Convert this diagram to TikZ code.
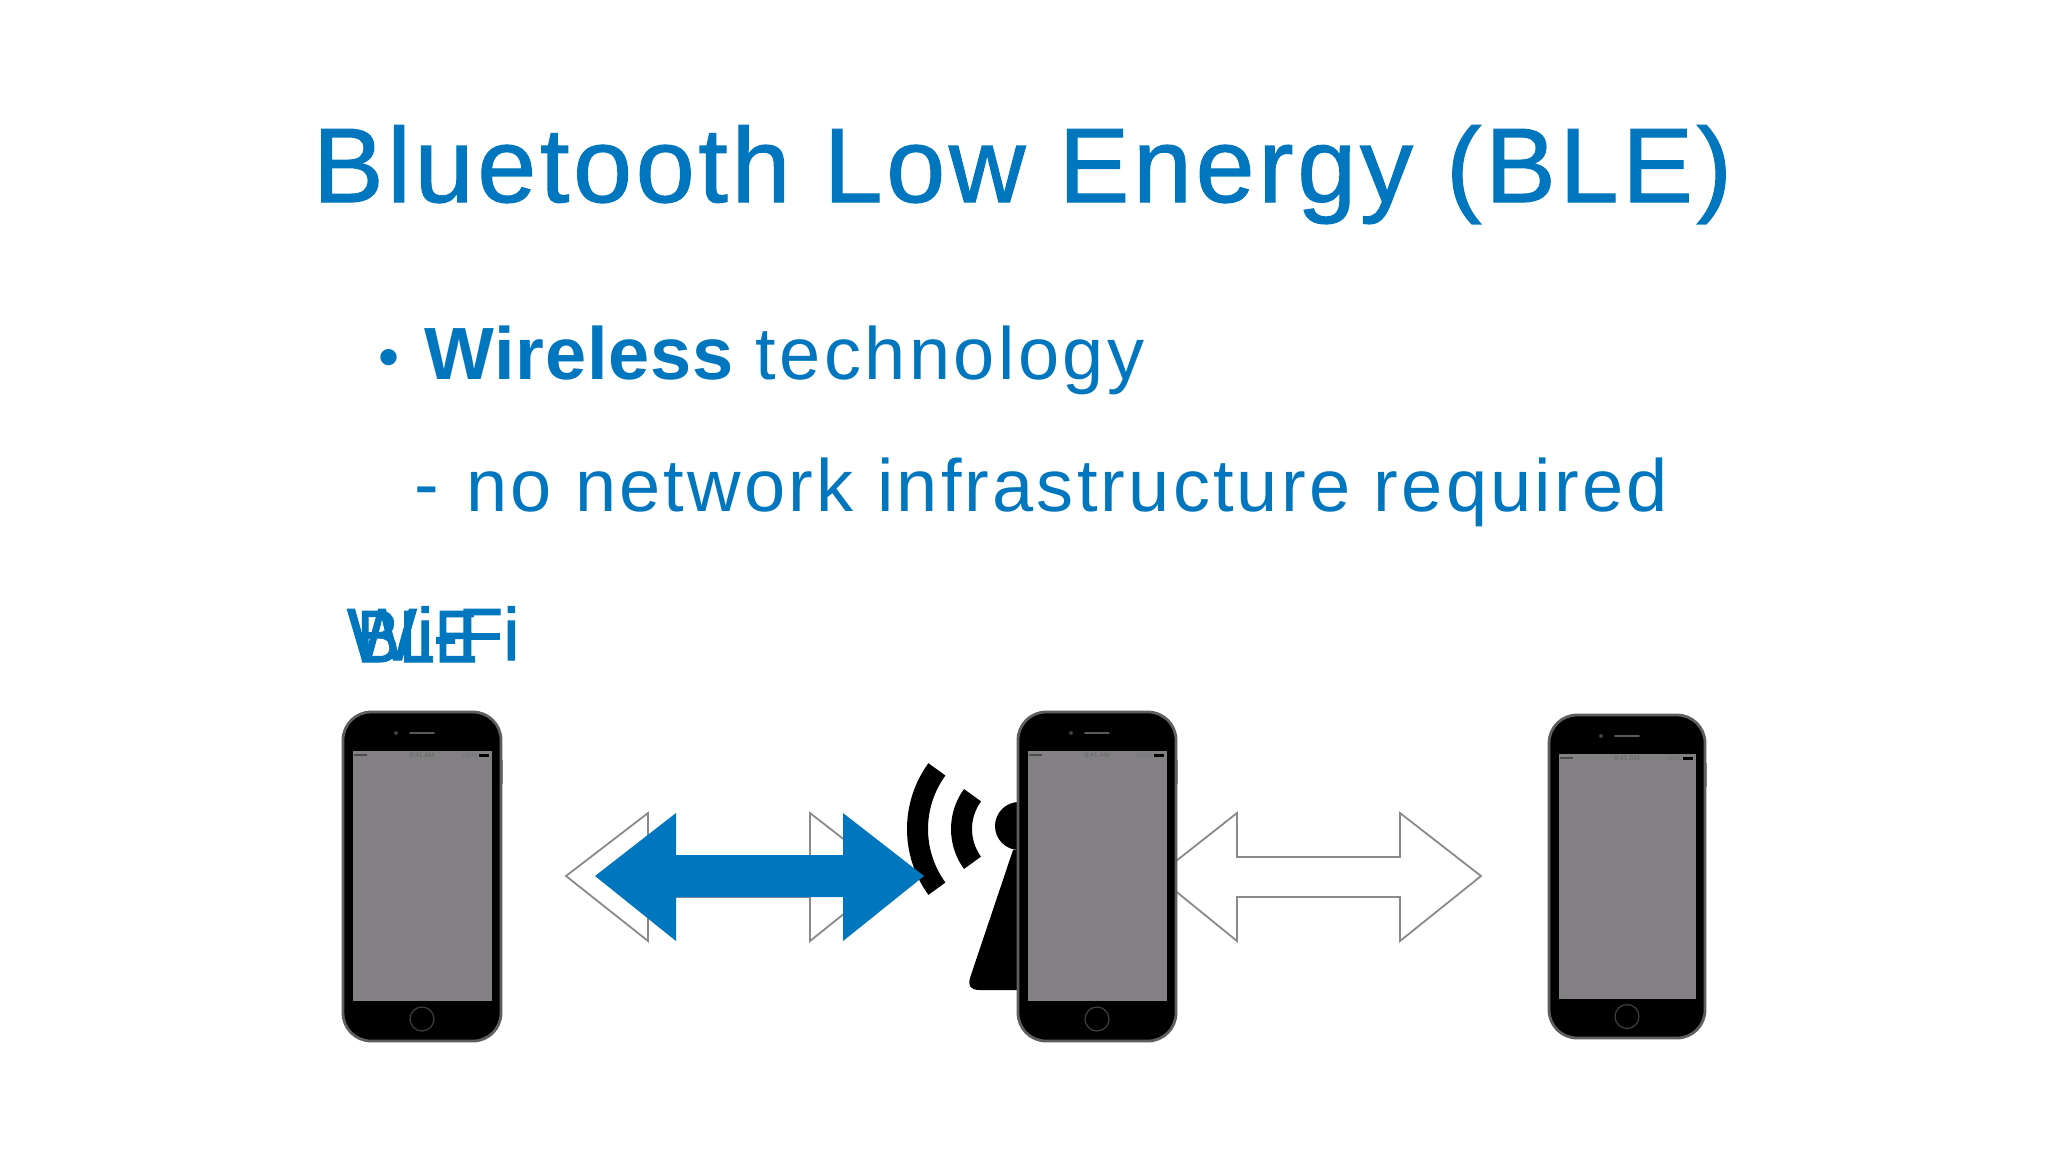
\documentclass[tikz,border=0pt]{standalone}
\usepackage{fontspec}
\setmainfont{Liberation Sans}
\definecolor{blu}{HTML}{0076BE}
\definecolor{scr}{HTML}{828083}
\definecolor{edge}{HTML}{5F5F62}
\definecolor{arr}{HTML}{8A8A8C}
\newcommand{\txt}[2]{\fontsize{#1}{#1}\selectfont #2}
\newcommand{\spaced}[2]{{\addfontfeature{LetterSpace=#1}#2}}
\newcommand{\medw}[1]{\special{pdf:code 2 Tr 0.55 w}#1\special{pdf:code 0 Tr}}
\newcommand{\phonepic}[8]{% name,L,R,T,B,sT,sB,top offset of speaker
  \fill[edge!70] ({#2-1.5},{#4+40}) rectangle ({#2},{#4+56});
  \fill[edge!70] ({#2-1.5},{#4+68}) rectangle ({#2},{#4+84});
  \fill[edge!70] ({#3},{#4+48}) rectangle ({#3+1.5},{#4+72});
  \node[phonebody,minimum width={(#3-#2)*0.5pt},minimum height={(#5-#4)*0.5pt}] (#1) at ({(#2+#3)/2},{(#4+#5)/2}) {};
  \node[phonescreen,minimum width={(#3-#2-19)*0.5pt},minimum height={(#7-#6)*0.5pt}] (#1s) at ({(#2+#3)/2},{(#6+#7)/2}) {};
  \node[homebtn] (#1h) at ({(#2+#3)/2},{(#7+#5)/2-2}) {};
  \draw[draw=white!35!black,line width=0.8pt,line cap=round] ({(#2+#3)/2-12},{#4+#8}) -- ({(#2+#3)/2+12},{#4+#8});
  \fill[white!25!black] ({(#2+#3)/2-26},{#4+#8}) circle (2);
  \fill[black!70] ({#2+11},{#6+3.2}) rectangle ({#2+24},{#6+5});
  \fill[black] ({#3-22},{#6+2.5}) rectangle ({#3-12},{#6+5.5});
  \node[inner sep=0pt,text=black!60] (#1t) at ({(#2+#3)/2},{#6+4.5}) {\txt{3.4}{9:41 AM}};
  \node[inner sep=0pt,text=black!55,anchor=east] (#1b) at ({#3-23},{#6+4.5}) {\txt{3.2}{100\%}};
}
\newcommand{\wavesector}[3]{\fill[black] ({#1+#2*cos(216)},{#3+#2*sin(216)}) arc[start angle=216,end angle=144,radius=#2] -- ({#1+(#2-21)*cos(144)},{#3+(#2-21)*sin(144)}) arc[start angle=144,end angle=216,radius=#2-21] -- cycle;}
\tikzset{
  x=0.5pt,y=-0.5pt,
  phonebody/.style={draw=edge,line width=1.4pt,fill=black,rounded corners=14pt,inner sep=0pt},
  phonescreen/.style={fill=scr,draw=none,inner sep=0pt},
  homebtn/.style={circle,draw=white!25!black,line width=0.6pt,fill=black,minimum size=12pt,inner sep=0pt},
  outlinearrow/.style={draw=arr,line width=0.9pt,fill=white,line join=miter},
  bluearrow/.style={fill=blu,draw=none},
  label/.style={anchor=base west,inner sep=0pt,outer sep=0pt,text=blu},
}
\begin{document}
\begin{tikzpicture}
\useasboundingbox (0,0) rectangle (2048,1152);
\fill[white] (0,0) rectangle (2048,1152);
\node[label] (title) at (313,202) {\txt{53}{\medw{\spaced{3.5}{Bluetooth Low Energy (BLE)}}}};
\node[label] (bullet) at (378,377) {\txt{30}{•}};
\node[label] (b1) at (424,379) {\txt{37}{\spaced{1.2}{\textbf{Wireless}} \spaced{4.7}{technology}}};
\node[label] (dash) at (414,509) {\txt{37}{-}};
\node[label] (b2) at (466,511) {\txt{37}{\spaced{4.3}{no network infrastructure required}}};
\node[label] (wifi) at (347,660) {\txt{37}{\medw{Wi-Fi}}};
\node[label] (ble) at (357,662) {\txt{37}{\scalebox{0.86}[1]{\medw{BLE}}}};
% outline arrows
\draw[outlinearrow] (566,876) -- (648,813) -- (648,856) -- (810,856) -- (810,813) -- (891,876) -- (810,941) -- (810,897) -- (648,897) -- (648,941) -- cycle;
\draw[outlinearrow] (1157,876) -- (1237,813) -- (1237,857) -- (1400,857) -- (1400,813) -- (1481,876) -- (1400,941) -- (1400,897) -- (1237,897) -- (1237,941) -- cycle;
% beacon
\fill[black] (1019,826) circle (24);
\fill[black] (1013,850) -- (971,975) .. controls (967,985) and (970,990) .. (980,990) -- (1030,990) -- (1030,850) -- cycle;
\wavesector{1019}{68}{829}
\wavesector{1019}{112}{829}
% blue arrow
\fill[bluearrow] (595,876) -- (676,813) -- (676,855) -- (843,855) -- (843,813) -- (924,876) -- (843,941) -- (843,897) -- (676,897) -- (676,941) -- cycle;
% phones
\phonepic{p1}{343}{501}{712}{1041}{751}{1001}{21}
\phonepic{p2}{1018}{1176}{712}{1041}{751}{1001}{21}
\phonepic{p3}{1549}{1705}{715}{1038}{754}{999}{21}
\end{tikzpicture}
\end{document}
